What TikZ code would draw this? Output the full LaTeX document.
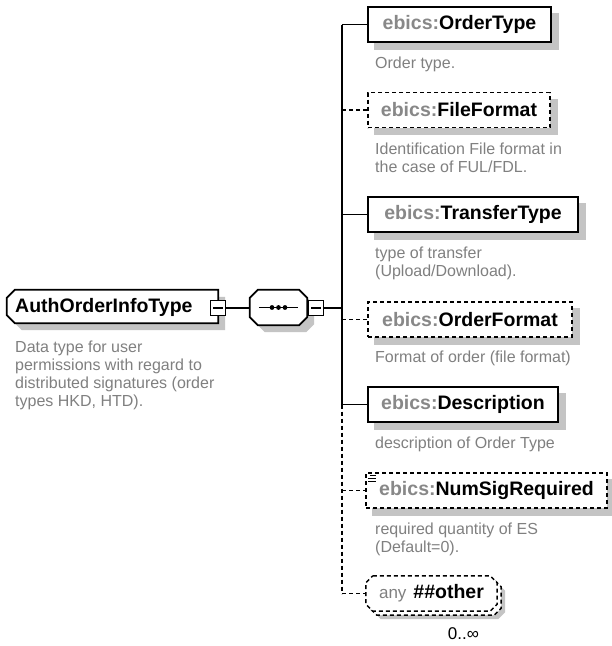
\documentclass[tikz,border=0pt]{standalone}
\usepackage{fontspec}
\setmainfont{Liberation Sans}
\pgfdeclarelayer{bg}
\pgfsetlayers{bg,main}
\definecolor{descgray}{HTML}{808080}
\definecolor{labgray}{HTML}{888888}
\definecolor{shadowcol}{HTML}{C4C4C4}
\newcommand\labfont{\fontsize{19.5}{22}\selectfont\bfseries}
\newcommand\descfont{\fontsize{16}{18}\selectfont}
\newcommand\ebics{\textcolor{labgray}{ebics:}}
% octagon path around a node: #1 node, #2 dx, #3 dy, #4 chamfer
\newcommand\octpath[4]{([shift={(#2+#4,#3)}]#1.north west) -- ([shift={(#2-#4,#3)}]#1.north east) -- ([shift={(#2,#3+#4)}]#1.north east) -- ([shift={(#2,#3-#4)}]#1.south east) -- ([shift={(#2-#4,#3)}]#1.south east) -- ([shift={(#2+#4,#3)}]#1.south west) -- ([shift={(#2,#3-#4)}]#1.south west) -- ([shift={(#2,#3+#4)}]#1.north west) -- cycle}
% left-chamfered box path: #1 node, #2 dx, #3 dy
\newcommand\lcpath[3]{([shift={(#2+8,#3)}]#1.north west) -- ([shift={(#2,#3)}]#1.north east) -- ([shift={(#2,#3)}]#1.south east) -- ([shift={(#2+8,#3)}]#1.south west) -- ([shift={(#2,#3-8)}]#1.south west) -- ([shift={(#2,#3+8)}]#1.north west) -- cycle}
\newcommand\rectshadow[1]{\fill[shadowcol] ([shift={(7,7)}]#1.south west) rectangle ([shift={(7,7)}]#1.north east);}
\begin{document}
\begin{tikzpicture}[x=1pt,y=-1pt,
  ln/.style={line width=1.4pt, draw=black},
  optln/.style={ln, dash pattern=on 4pt off 3pt},
  elem/.style={draw=black, line width=1.8pt, fill=white, minimum height=35pt, inner sep=0pt, font=\labfont},
  optelem/.style={elem, line width=1.5pt, dash pattern=on 4pt off 3pt},
  desc/.style={anchor=north west, inner sep=0pt, align=left, text=descgray, font=\descfont},
  minusbox/.style={draw=black, line width=1.2pt, fill=white, minimum size=15pt, inner sep=0pt},
  ghost/.style={inner sep=0pt, minimum height=35pt}
]
\begin{pgfonlayer}{bg}
\fill[white] (0,0) rectangle (612,646);
\end{pgfonlayer}
\useasboundingbox (0,0) rectangle (612,646);

% ---- root type ----
\node[ghost, minimum width=211pt, minimum height=33pt] (root) at (112.5,306.5) {};
\node[anchor=west, inner sep=0pt, font=\labfont] (roottxt) at (15,307) {AuthOrderInfoType};
\node[desc] (rootdesc) at (15,341) {Data type for user\\permissions with regard to\\distributed signatures (order\\types HKD, HTD).};

% ---- sequence ----
\node[ghost, minimum width=57pt] (seq) at (278.5,307.5) {};
\node[minusbox] (rootminus) at (218,308) {};
\node[minusbox] (seqminus) at (316,308) {};

% ---- children ----
\node[elem, minimum width=183pt] (ot) at (459.5,24.5) {\ebics OrderType};
\node[desc] (otd) at (375,57) {Order type.};
\node[optelem, minimum width=182pt] (ff) at (459,110) {\ebics FileFormat};
\node[desc] (ffd) at (375,142.5) {Identification File format in\\the case of FUL/FDL.};
\node[elem, minimum width=210pt] (tt) at (473,214.5) {\ebics TransferType};
\node[desc] (ttd) at (375,247) {type of transfer\\(Upload/Download).};
\node[optelem, minimum width=204pt] (of) at (470,319.5) {\ebics OrderFormat};
\node[desc] (ofd) at (375,351) {Format of order (file format)};
\node[elem, minimum width=190pt] (de) at (463,404.5) {\ebics Description};
\node[desc] (ded) at (375,437) {description of Order Type};
\node[optelem, minimum width=241pt] (ns) at (486.5,490.5) {\ebics NumSigRequired};
\node[desc] (nsd) at (375,523) {required quantity of ES\\(Default=0).};
\node[ghost, minimum width=131pt] (any) at (431.5,593.5)
  {\textcolor{descgray}{\fontsize{17}{20}\selectfont any}\hspace{7pt}{\labfont\#\#other}};
\node[inner sep=0pt, font=\fontsize{17}{20}\selectfont] (occ) at (463.5,634) {0..∞};

% ---- backgrounds, shadows and outlines ----
\begin{pgfonlayer}{bg}
\fill[shadowcol] \lcpath{root}{7}{7};
\draw[line width=1.8pt, fill=white] \lcpath{root}{0}{0};
\fill[shadowcol] \octpath{seq}{7}{7}{8};
\draw[line width=1.8pt, fill=white] \octpath{seq}{0}{0}{8};
\rectshadow{ot}
\rectshadow{ff}
\rectshadow{tt}
\rectshadow{of}
\rectshadow{de}
\rectshadow{ns}
\fill[shadowcol] \octpath{any}{8}{8}{7};
\draw[line width=1.5pt, dash pattern=on 4pt off 3pt, fill=white] \octpath{any}{4}{4}{7};
\draw[line width=1.5pt, dash pattern=on 4pt off 3pt, fill=white] \octpath{any}{0}{0}{7};
\end{pgfonlayer}

% minus signs and sequence symbol
\draw[ln] ([xshift=3.5pt]rootminus.west) -- ([xshift=-3.5pt]rootminus.east);
\draw[ln] ([xshift=3.5pt]seqminus.west) -- ([xshift=-3.5pt]seqminus.east);
\draw[ln] ([xshift=9pt]seq.west) -- ([xshift=-9pt]seq.east);
\fill (seq.center) circle (2.4pt);
\fill ([xshift=-6.5pt]seq.center) circle (2.4pt);
\fill ([xshift=6.5pt]seq.center) circle (2.4pt);

% simple-content icon on NumSigRequired
\draw[line width=1pt] ([shift={(5,3)}]ns.north west) -- ([shift={(11,3)}]ns.north west);
\draw[line width=1pt] ([shift={(3,6)}]ns.north west) -- ([shift={(11,6)}]ns.north west);
\draw[line width=1pt] ([shift={(3,9)}]ns.north west) -- ([shift={(11,9)}]ns.north west);

% ---- connectors ----
\coordinate (bus) at (342,0);
\draw[ln] (rootminus.east) -- (rootminus.east -| seq.west);
\draw[ln] (seqminus.east) -- (seqminus.east -| bus);
\draw[ln] (bus |- ot.west) -- (bus |- de.west);
\draw[optln] (bus |- de.west) -- (bus |- any.west);
\draw[ln] (bus |- ot.west) -- (ot.west);
\draw[optln] (bus |- ff.west) -- (ff.west);
\draw[ln] (bus |- tt.west) -- (tt.west);
\draw[optln] (bus |- of.west) -- (of.west);
\draw[ln] (bus |- de.west) -- (de.west);
\draw[optln] (bus |- ns.west) -- (ns.west);
\draw[optln] (bus |- any.west) -- ([xshift=-0.5pt]any.west);
\end{tikzpicture}
\end{document}
